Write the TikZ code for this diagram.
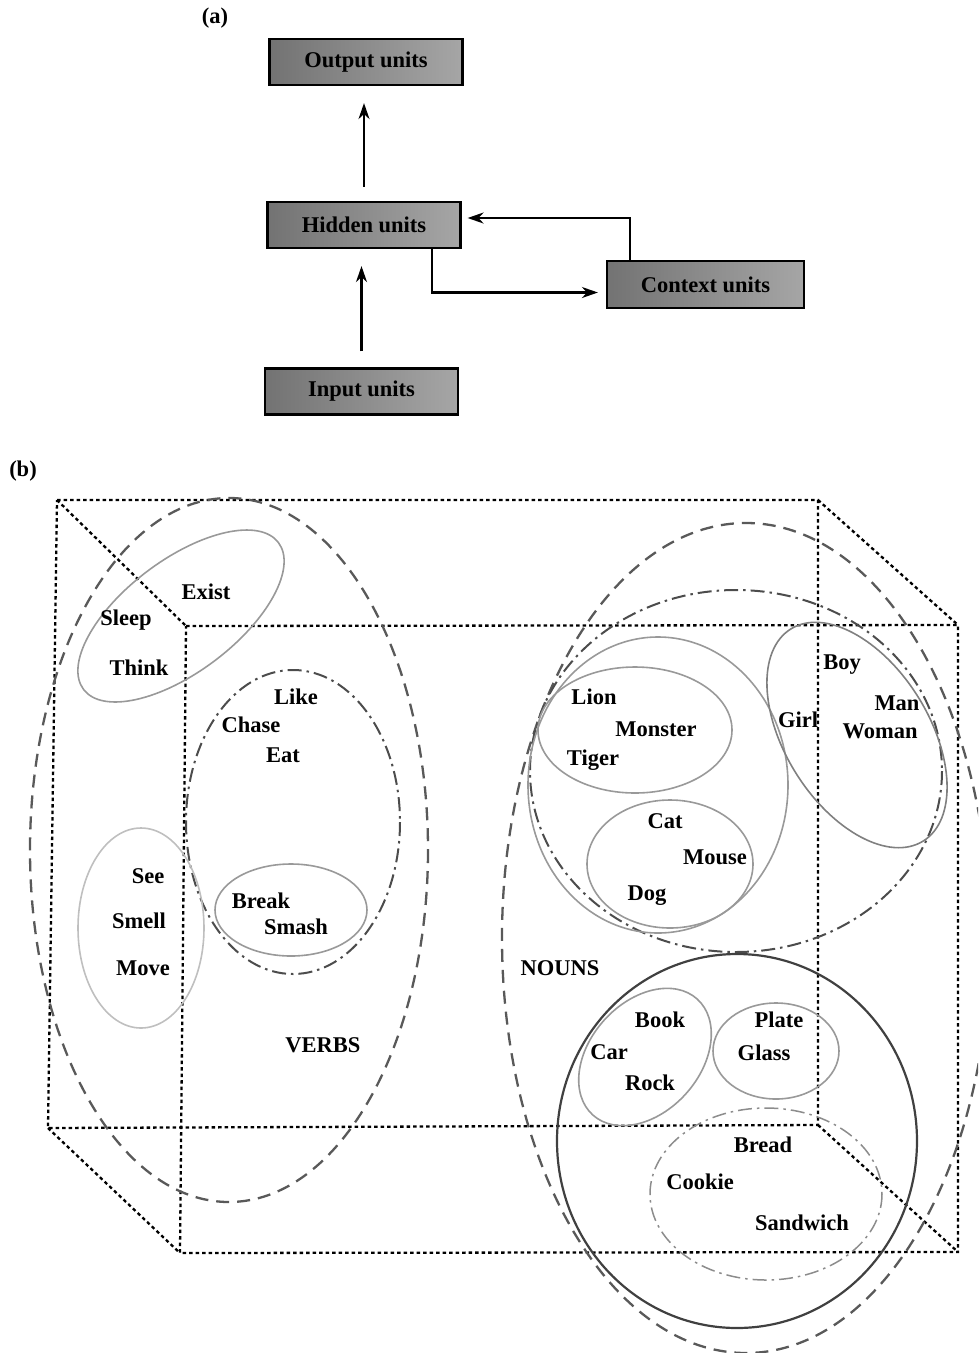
\documentclass[tikz,border=0pt]{standalone}
\usepackage{fontspec}
\setmainfont{Liberation Serif}
\usetikzlibrary{arrows.meta,calc}
\tikzset{
  unitbox/.style={draw=black, line width=2.2pt, minimum width=193pt, minimum height=46pt,
    left color=black!55, middle color=black!8, right color=black!35,
    font=\bfseries\fontsize{22.5}{27}\selectfont, inner sep=0pt},
  lbl/.style={font=\bfseries\fontsize{22.5}{27}\selectfont, inner sep=0pt},
  arr/.style={line width=2.2pt, -{Stealth[length=16pt,width=11pt]}},
  cubeline/.style={line width=2.3pt, dash pattern=on 3.5pt off 3pt},
  bigdash/.style={draw=black!65, line width=2.3pt, dash pattern=on 13pt off 8pt},
  dashdot/.style={draw=black!70, line width=2pt, dash pattern=on 14pt off 5pt on 2.5pt off 5pt},
  grayell/.style={draw=black!40, line width=1.6pt},
}
\begin{document}
\begin{tikzpicture}[x=1pt,y=-1pt]
\useasboundingbox (0,0) rectangle (978,1353);
\begin{scope}
\clip (0,0) rectangle (978,1353);
% ---------- (a) ----------
\node[lbl] (la) at (215,18) {(a)};
\node[unitbox] (output) at (366,62) {Output units};
\node[unitbox] (hidden) at (364,225) {Hidden units};
\node[unitbox] (input) at (361.5,391.5) {Input units};
\node[unitbox, minimum width=197pt, minimum height=47pt] (context) at (705.5,284.5) {Context units};
\draw[arr, shorten <=14pt, shorten >=17pt] (hidden.north) -- (hidden.north |- output.south);
\draw[arr, shorten <=16pt, shorten >=17pt] (input.north) -- (input.north |- hidden.south);
\draw[arr, shorten >=8pt] ($(hidden.south west)!0.85!(hidden.south east)$) |- ($(context.west)+(0,8)$);
\draw[arr, shorten >=6pt] ($(context.north west)+(24,0)$) |- ($(hidden.east)+(0,-7)$);
% ---------- (b) ----------
\node[lbl] (lb) at (23,471) {(b)};
\coordinate (b1) at (57,500);
\coordinate (b2) at (818,500);
\coordinate (b3) at (818,1125);
\coordinate (b4) at (48,1128);
\coordinate (f1) at (186,626);
\coordinate (f2) at (958,625);
\coordinate (f3) at (958,1252);
\coordinate (f4) at (180,1253);
\draw[cubeline] (b1) -- (b2) -- (b3) -- (b4) -- cycle;
\draw[cubeline] (f1) -- (f2) -- (f3) -- (f4) -- cycle;
\draw[cubeline] (b1) -- (f1);
\draw[cubeline] (b2) -- (f2);
\draw[cubeline] (b3) -- (f3);
\draw[cubeline] (b4) -- (f4);
% verbs
\draw[bigdash] (229,850) ellipse [x radius=199, y radius=352];
\draw[grayell, rotate around={37:(181,616)}] (181,616) ellipse [x radius=122, y radius=56];
\draw[dashdot] (293,822) ellipse [x radius=107, y radius=152];
\draw[grayell] (291,910) ellipse [x radius=76, y radius=46];
\draw[grayell, draw=black!25] (141,928) ellipse [x radius=63, y radius=100];
% nouns
\draw[bigdash] (746,938) ellipse [x radius=244, y radius=415];
\draw[dashdot] (736,771) ellipse [x radius=206, y radius=181];
\draw[grayell] (658,785) ellipse [x radius=130, y radius=148];
\draw[grayell] (635,730) ellipse [x radius=97, y radius=63];
\draw[grayell] (670,864) ellipse [x radius=83, y radius=64];
\draw[grayell, draw=black!50, rotate around={-58:(857,735)}] (857,735) ellipse [x radius=125, y radius=72];
\draw[draw=black!75, line width=2.2pt] (737,1141) ellipse [x radius=180, y radius=187];
\draw[grayell, rotate around={48:(645,1057)}] (645,1057) ellipse [x radius=78, y radius=55];
\draw[grayell] (776,1051) ellipse [x radius=63, y radius=48];
\draw[dashdot, draw=black!45, line width=1.5pt] (766,1194) ellipse [x radius=116, y radius=86];
% labels
\node[lbl] (exist) at (206,592) {Exist};
\node[lbl] (sleep) at (126,620) {Sleep};
\node[lbl] (think) at (139,668) {Think};
\node[lbl] (like) at (296,697) {Like};
\node[lbl] (chase) at (251,725) {Chase};
\node[lbl] (eat) at (283,755) {Eat};
\node[lbl] (see) at (148,876) {See};
\node[lbl] (smell) at (139,921) {Smell};
\node[lbl] (move) at (143,968) {Move};
\node[lbl] (break) at (261,901) {Break};
\node[lbl] (smash) at (296,927) {Smash};
\node[lbl] (verbs) at (323,1045) {VERBS};
\node[lbl] (lion) at (594,697) {Lion};
\node[lbl] (monster) at (656,729) {Monster};
\node[lbl] (tiger) at (593,760) {Tiger};
\node[lbl] (cat) at (665,821) {Cat};
\node[lbl] (mouse) at (715,857) {Mouse};
\node[lbl] (dog) at (647,896) {Dog};
\node[lbl] (boy) at (842,665) {Boy};
\node[lbl] (girl) at (798,720) {Girl};
\node[lbl] (man) at (897,703) {Man};
\node[lbl] (woman) at (880,731) {Woman};
\node[lbl] (nouns) at (560,968) {NOUNS};
\node[lbl] (book) at (660,1020) {Book};
\node[lbl] (car) at (609,1052) {Car};
\node[lbl] (rock) at (650,1083) {Rock};
\node[lbl] (plate) at (779,1020) {Plate};
\node[lbl] (glass) at (764,1053) {Glass};
\node[lbl] (bread) at (763,1145) {Bread};
\node[lbl] (cookie) at (700,1182) {Cookie};
\node[lbl] (sandwich) at (802,1223) {Sandwich};
\end{scope}
\end{tikzpicture}
\end{document}
